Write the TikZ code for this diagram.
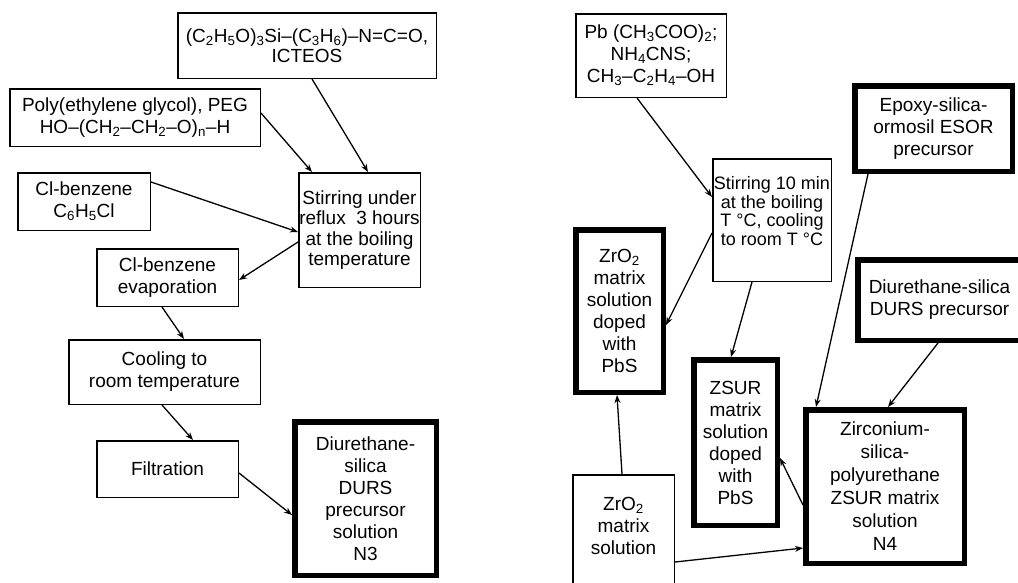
\documentclass[tikz,border=0pt]{standalone}
\usepackage{fontspec}
\setmainfont{Liberation Sans}
\usetikzlibrary{arrows.meta}
\begin{document}
\begin{tikzpicture}[x=1pt,y=-1pt,
  thinbox/.style={draw, line width=1.5pt, inner sep=0pt, align=center,
    font=\fontsize{19}{22}\selectfont},
  thickbox/.style={thinbox, line width=5.5pt},
  arr/.style={line width=1.3pt, -{Stealth[length=8pt,width=6pt]}}]
\useasboundingbox (0,0) rectangle (1018,582);
\clip (0,0) rectangle (1018,582);
\fill[white] (0,0) rectangle (1018,582);
% ---------- left part ----------
\node[thinbox, minimum width=258.5, minimum height=65.5, font=\fontsize{19}{20.5}\selectfont] (icteos) at (307,45.5)
  {(C\textsubscript{2}H\textsubscript{5}O)\textsubscript{3}Si–(C\textsubscript{3}H\textsubscript{6})–N=C=O,\\ICTEOS};
\node[thinbox, minimum width=250.5, minimum height=57.5] (peg) at (135,117.5)
  {Poly(ethylene glycol), PEG\\HO–(CH\textsubscript{2}–CH\textsubscript{2}–O)\textsubscript{n}–H};
\node[thinbox, minimum width=132.5, minimum height=57.5] (clb) at (84,201.5)
  {Cl-benzene\\C\textsubscript{6}H\textsubscript{5}Cl};
\node[thinbox, minimum width=121.5, minimum height=114.5, font=\fontsize{19}{20.5}\selectfont] (stir) at (359.5,230)
  {Stirring under\\reflux\ \ 3 hours\\at the boiling\\temperature};
\node[thinbox, minimum width=141.5, minimum height=57.5] (evap) at (167.5,277.5)
  {Cl-benzene\\evaporation};
\node[thinbox, minimum width=191.5, minimum height=64.5] (cool) at (164.5,372)
  {Cooling to\\room temperature};
\node[thinbox, minimum width=141.5, minimum height=56.5] (filt) at (167.5,469)
  {Filtration};
\node[thickbox, minimum width=141.5, minimum height=153.5] (n3) at (365.5,498.5)
  {Diurethane-\\silica\\DURS\\precursor\\solution\\N3};
% ---------- right part ----------
\node[thinbox, minimum width=150.5, minimum height=83.5] (pb) at (651,55.5)
  {Pb (CH\textsubscript{3}COO)\textsubscript{2};\\NH\textsubscript{4}CNS;\\CH\textsubscript{3}–C\textsubscript{2}H\textsubscript{4}–OH};
\node[thickbox, minimum width=157.5, minimum height=85.5] (epoxy) at (933.5,128.5)
  {Epoxy-silica-\\ormosil ESOR\\precursor};
\node[thinbox, minimum width=118.5, minimum height=122.5, font=\fontsize{18}{18.5}\selectfont] (stir2) at (772,220)
  {Stirring 10 min\\at the boiling\\T °C, cooling\\to room T °C\\\mbox{}};
\node[thickbox, minimum width=87.5, minimum height=162.5] (zrd) at (619.5,311)
  {ZrO\textsubscript{2}\\matrix\\solution\\doped\\with\\PbS};
\node[thickbox, minimum width=163.5, minimum height=80.5] (durs) at (939.5,300)
  {Diurethane-silica\\DURS precursor};
\node[thickbox, minimum width=83.5, minimum height=165.5] (zsur) at (735.5,442.5)
  {ZSUR\\matrix\\solution\\doped\\with\\PbS};
\node[thinbox, minimum width=101.5, minimum height=124.5] (zrm) at (623.5,537)
  {ZrO\textsubscript{2}\\matrix\\solution\\\mbox{}};
\node[thickbox, minimum width=158.5, minimum height=153.5, font=\fontsize{19}{23}\selectfont] (n4) at (885,486.5)
  {Zirconium-\\silica-\\polyurethane\\ZSUR matrix\\solution\\N4};
% ---------- connectors ----------
\draw[arr] ([yshift=4.5]peg.east) -- ([xshift=-47.5]stir.north);
\draw[arr] ([xshift=5]icteos.south) -- ([xshift=8.5]stir.north);
\draw[arr] ([yshift=19.5]clb.east) -- ([yshift=-2]stir.west);
\draw[arr] ([yshift=-12]stir.west) -- ([yshift=-2.5]evap.east);
\draw[arr] ([xshift=-5.5]evap.south) -- ([xshift=19.5]cool.north);
\draw[arr] ([xshift=-2.5]cool.south) -- ([xshift=25.5]filt.north);
\draw[arr] ([yshift=-4]filt.east) -- ([yshift=-16.5]n3.west);
\draw[arr] ([xshift=-14]pb.south) -- ([yshift=23]stir2.west);
\draw[arr] ([yshift=-13]stir2.west) -- ([yshift=-14]zrd.east);
\draw[arr] ([xshift=-20]stir2.south) -- ([xshift=-4.5]zsur.north);
\draw[arr] ([xshift=-65.5]epoxy.south) -- ([xshift=-69]n4.north);
\draw[arr] ([xshift=-1.5]durs.south) -- ([xshift=3]n4.north);
\draw[arr] ([yshift=-18.5]n4.west) -- ([yshift=-15.5]zsur.east);
\draw[arr] ([xshift=-1.5]zrm.north) -- ([xshift=-2.5]zrd.south);
\draw[arr] ([yshift=-25]zrm.east) -- ([yshift=-61.5]n4.west);
\end{tikzpicture}
\end{document}
